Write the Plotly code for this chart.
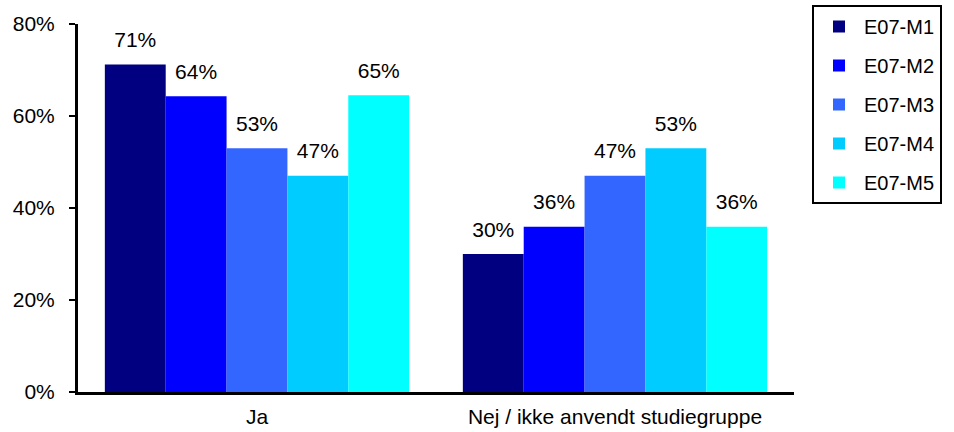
import plotly.graph_objects as go

categories = ["Ja", "Nej / ikke anvendt studiegruppe"]
series_names = ["E07-M1", "E07-M2", "E07-M3", "E07-M4", "E07-M5"]
values_m1 = [71.2, 30.0]
values_m2 = [64.3, 35.9]
values_m3 = [53.0, 47.0]
values_m4 = [47.0, 53.0]
values_m5 = [64.5, 35.9]
labels_m1 = ["71%", "30%"]
labels_m2 = ["64%", "36%"]
labels_m3 = ["53%", "47%"]
labels_m4 = ["47%", "53%"]
labels_m5 = ["65%", "36%"]
colors = ["#000080", "#0000FF", "#3366FF", "#00CCFF", "#00FFFF"]

all_values = [values_m1, values_m2, values_m3, values_m4, values_m5]
all_labels = [labels_m1, labels_m2, labels_m3, labels_m4, labels_m5]

FONT = "Liberation Sans, Arial, sans-serif"

fig = go.Figure()
for i, name in enumerate(series_names):
    fig.add_trace(go.Bar(
        x=categories, y=all_values[i], name=name,
        marker=dict(color=colors[i], line=dict(width=0)),
        offsetgroup=str(i), legendgroup=str(i),
        hoverinfo="skip",
    ))
for i, name in enumerate(series_names):
    fig.add_trace(go.Scatter(
        x=categories, y=all_values[i], text=all_labels[i],
        mode="markers+text", textposition="top center",
        marker=dict(size=18, opacity=0),
        textfont=dict(size=21, color="#000000", family=FONT),
        offsetgroup=str(i), showlegend=False, hoverinfo="skip",
        cliponaxis=False,
    ))

fig.update_layout(
    width=954, height=432,
    margin=dict(l=78, r=160, t=24, b=40, autoexpand=False),
    paper_bgcolor="white", plot_bgcolor="white",
    barmode="group", bargap=0.15, bargroupgap=0,
    scattermode="group", scattergap=0.15,
    font=dict(family=FONT, size=21, color="#000000"),
    showlegend=True,
    legend=dict(
        x=(812 - 78) / 716, xanchor="left",
        y=(392 - 5) / 368, yanchor="top",
        bordercolor="#000000", borderwidth=2,
        font=dict(size=20, family=FONT),
        tracegroupgap=10, itemwidth=40, entrywidth=100,
    ),
)
fig.update_xaxes(
    showline=True, linecolor="#000000", linewidth=3,
    ticks="", showgrid=False, zeroline=False,
    ticklabelstandoff=4,
)
fig.update_yaxes(
    range=[0, 80], dtick=20, ticksuffix="%",
    showline=True, linecolor="#000000", linewidth=3,
    ticks="outside", ticklen=6, tickwidth=2, tickcolor="#000000",
    showgrid=False, zeroline=False, ticklabelstandoff=10,
)

fig.write_html("out.html")
